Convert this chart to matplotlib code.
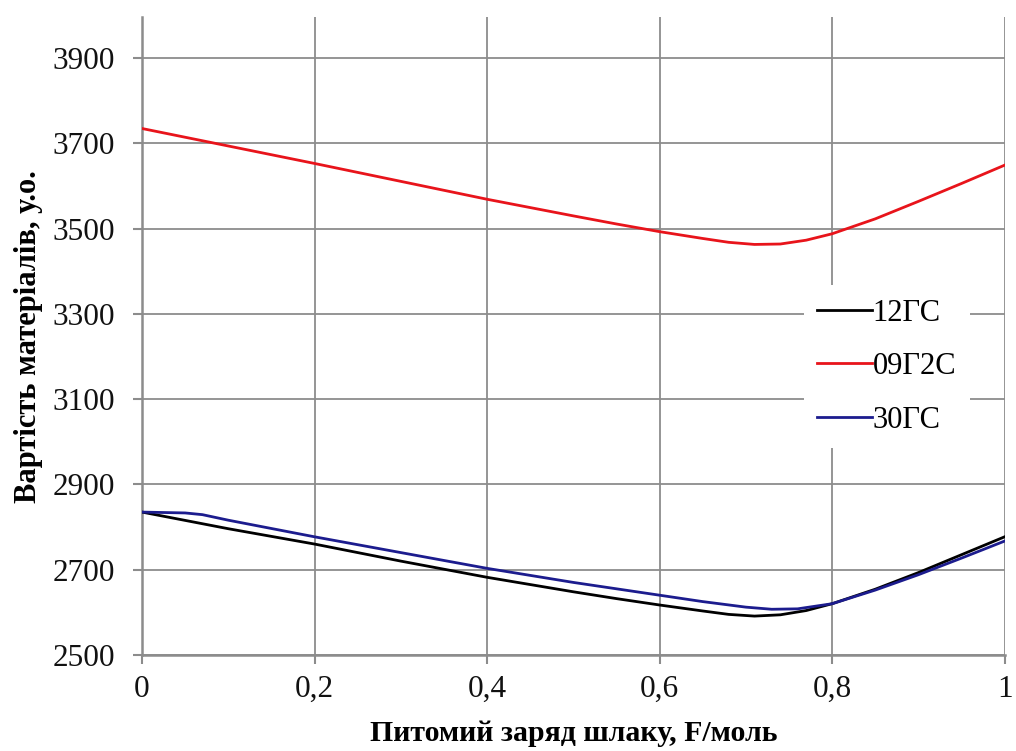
import matplotlib
matplotlib.use("Agg")
import matplotlib.pyplot as plt
from matplotlib.ticker import FixedLocator, FuncFormatter

# Data
x_red = [0.0, 0.1, 0.2, 0.3, 0.4, 0.5, 0.55, 0.6, 0.65, 0.68, 0.71, 0.74, 0.77, 0.8, 0.85, 0.9, 0.95, 1.0]
y_red = [3735, 3694, 3653, 3611, 3569, 3530, 3511, 3493, 3477, 3468, 3463, 3464, 3473, 3488, 3523, 3564, 3606, 3649]

x_black = [0.0, 0.1, 0.2, 0.3, 0.4, 0.5, 0.55, 0.6, 0.65, 0.68, 0.71, 0.74, 0.77, 0.8, 0.85, 0.9, 0.95, 1.0]
y_black = [2835, 2796, 2760, 2720, 2682, 2648, 2632, 2617, 2603, 2595, 2591, 2594, 2604, 2620, 2654, 2693, 2735, 2777]

x_blue = [0.0, 0.05, 0.07, 0.1, 0.2, 0.3, 0.4, 0.5, 0.55, 0.6, 0.65, 0.7, 0.73, 0.76, 0.8, 0.85, 0.9, 0.95, 1.0]
y_blue = [2835, 2833, 2829, 2816, 2777, 2740, 2703, 2670, 2655, 2640, 2625, 2612, 2607, 2608, 2620, 2652, 2688, 2727, 2767]

series_names = ["12ГС", "09Г2С", "30ГС"]
x_ticks = [0, 0.2, 0.4, 0.6, 0.8, 1.0]
y_ticks = [2500, 2700, 2900, 3100, 3300, 3500, 3700, 3900]
x_label = "Питомий заряд шлаку, F/моль"
y_label = "Вартість матеріалів, у.о."

plt.rcParams['font.family'] = ['Liberation Serif', 'DejaVu Serif']

fig = plt.figure(figsize=(10.16, 7.51), dpi=100)
ax = fig.add_axes([0.1398, 0.128, 0.849, 0.849])

ax.plot(x_black, y_black, color="black", lw=2.0, label=series_names[0], zorder=3)
ax.plot(x_red, y_red, color="#e8141b", lw=2.0, label=series_names[1], zorder=3)
ax.plot(x_blue, y_blue, color="#1c1c8e", lw=2.0, label=series_names[2], zorder=4)

ax.set_xlim(0, 1)
ax.set_ylim(2500, 3996)
ax.xaxis.set_major_locator(FixedLocator(x_ticks))
ax.yaxis.set_major_locator(FixedLocator(y_ticks))

def fmt_x(v, pos):
    if abs(v - round(v)) < 1e-9:
        return str(int(round(v)))
    return ("%.1f" % v).replace(".", ",")

ax.xaxis.set_major_formatter(FuncFormatter(fmt_x))

grid_col = "#8c8c8c"
ax.grid(True, color=grid_col, lw=1.3, zorder=0)
for s in ["top", "right"]:
    ax.spines[s].set_visible(False)
for s in ["left", "bottom"]:
    ax.spines[s].set_color(grid_col)
    ax.spines[s].set_linewidth(1.8)

ax.tick_params(axis="both", direction="out", length=6.5, width=1.5, color=grid_col,
               labelsize=22.5, labelcolor="#111111")
ax.tick_params(axis="x", pad=8)
ax.tick_params(axis="y", pad=13)

ax.set_xlabel(x_label, fontsize=21.5, fontweight="bold")
ax.set_ylabel(y_label, fontsize=22, fontweight="bold")
ax.xaxis.set_label_coords(0.5, -0.124)
ax.xaxis.label.set_va("center")
ax.yaxis.set_label_coords(-0.132, 0.5)
ax.yaxis.label.set_va("center")

leg = ax.legend(loc="center left", bbox_to_anchor=(0.767, 0.452), frameon=True,
                fontsize=22, handlelength=1.8, handletextpad=0.0, labelspacing=0.8,
                borderpad=0.45, borderaxespad=0.0, fancybox=False)
leg.get_frame().set_edgecolor("none")
leg.get_frame().set_facecolor("white")
leg.get_frame().set_alpha(1.0)

fig.savefig("out.png", dpi=100, facecolor="white")
